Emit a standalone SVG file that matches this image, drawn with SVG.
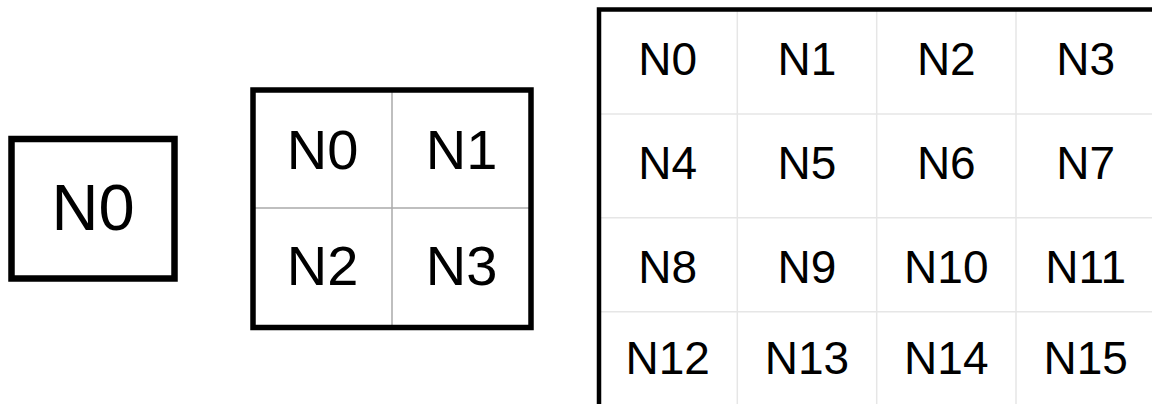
<svg xmlns="http://www.w3.org/2000/svg" width="1152" height="404" viewBox="0 0 1152 404">
  <style>
    .lbl { font-family: "Liberation Sans", Arial, Helvetica, sans-serif; fill: #000; text-anchor: middle; }
    .l1 { font-size: 65px; }
    .l2 { font-size: 56px; }
    .l4 { font-size: 46px; }
    .frame { fill: none; stroke: #000; }
    .div2 { stroke: #aaaaaa; stroke-width: 1.5; fill: none; }
    .div4 { stroke: #e6e6e6; stroke-width: 1.5; fill: none; }
  </style>
  <rect width="1152" height="404" fill="#fff"/>

  <!-- 1x1 grid -->
  <g id="grid1">
    <rect class="frame" x="11.5" y="139" width="163" height="139.5" stroke-width="6.5"/>
    <g id="g1-n0"><text class="lbl l1" x="93" y="230">N0</text></g>
  </g>

  <!-- 2x2 grid -->
  <g id="grid2">
    <path class="div2" d="M392,90 V327.5 M253,208 H531"/>
    <rect class="frame" x="253" y="90" width="278" height="237.5" stroke-width="5.5"/>
    <g id="g2-n0"><text class="lbl l2" x="322.5" y="168.5">N0</text></g>
    <g id="g2-n1"><text class="lbl l2" x="461.5" y="168.5">N1</text></g>
    <g id="g2-n2"><text class="lbl l2" x="322.5" y="285">N2</text></g>
    <g id="g2-n3"><text class="lbl l2" x="461.5" y="285">N3</text></g>
  </g>

  <!-- 4x4 grid, runs past the right and bottom edges -->
  <g id="grid4">
    <path class="div4" d="M737.3,9.5 V410 M876.7,9.5 V410 M1016,9.5 V410 M599,114 H1160 M599,217.7 H1160 M599,311.7 H1160"/>
    <path class="frame" d="M599,410 V9.5 H1160" stroke-width="4.5"/>
    <g id="g4-n0"><text class="lbl l4" x="667.7" y="75">N0</text></g>
    <g id="g4-n1"><text class="lbl l4" x="807" y="75">N1</text></g>
    <g id="g4-n2"><text class="lbl l4" x="946.3" y="75">N2</text></g>
    <g id="g4-n3"><text class="lbl l4" x="1085.7" y="75">N3</text></g>
    <g id="g4-n4"><text class="lbl l4" x="667.7" y="179">N4</text></g>
    <g id="g4-n5"><text class="lbl l4" x="807" y="179">N5</text></g>
    <g id="g4-n6"><text class="lbl l4" x="946.3" y="179">N6</text></g>
    <g id="g4-n7"><text class="lbl l4" x="1085.7" y="179">N7</text></g>
    <g id="g4-n8"><text class="lbl l4" x="667.7" y="283">N8</text></g>
    <g id="g4-n9"><text class="lbl l4" x="807" y="283">N9</text></g>
    <g id="g4-n10"><text class="lbl l4" x="946.3" y="283">N10</text></g>
    <g id="g4-n11"><text class="lbl l4" x="1085.7" y="283">N11</text></g>
    <g id="g4-n12"><text class="lbl l4" x="667.7" y="374">N12</text></g>
    <g id="g4-n13"><text class="lbl l4" x="807" y="374">N13</text></g>
    <g id="g4-n14"><text class="lbl l4" x="946.3" y="374">N14</text></g>
    <g id="g4-n15"><text class="lbl l4" x="1085.7" y="374">N15</text></g>
  </g>

  <!-- no connectors in this figure -->
  <g id="connectors"/>
</svg>
